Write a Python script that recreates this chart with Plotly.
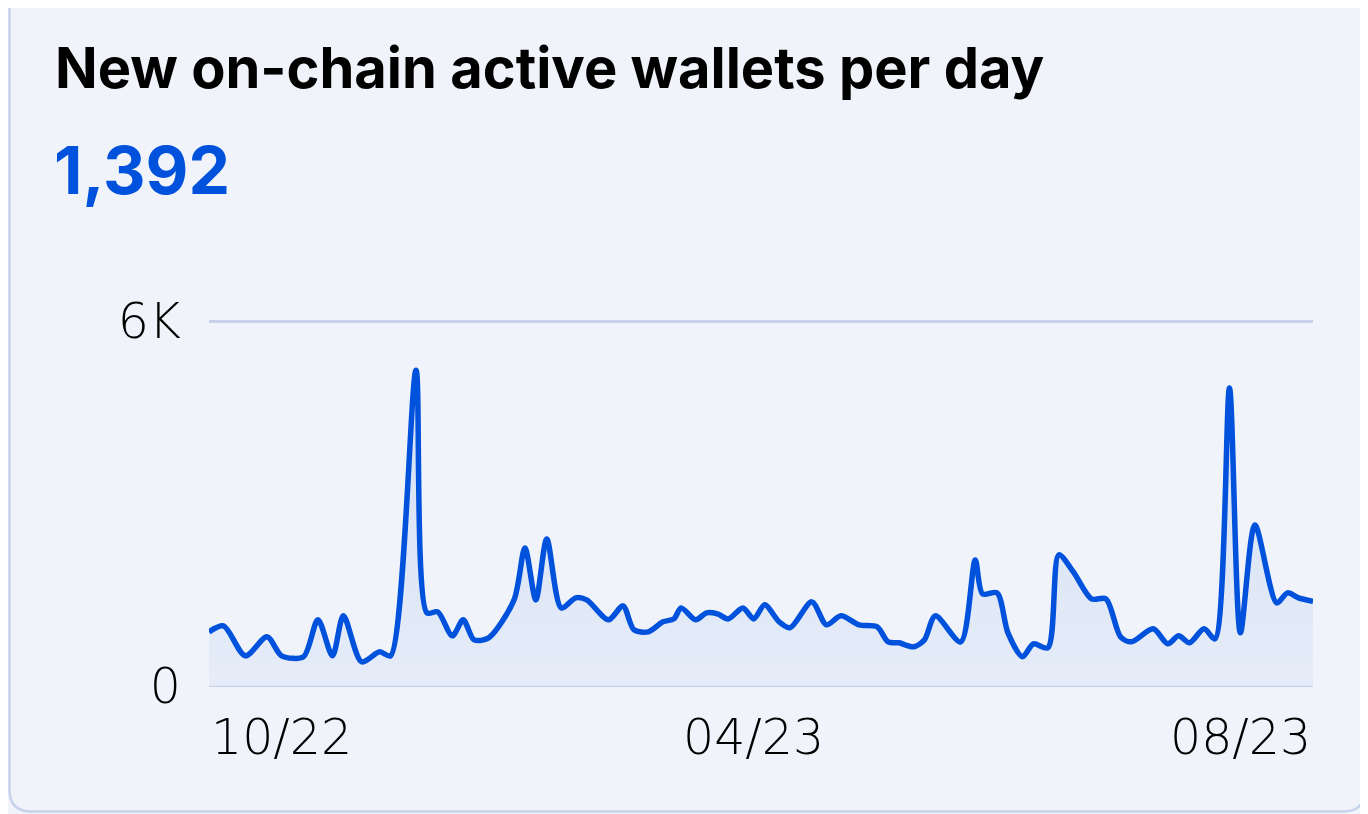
import plotly.graph_objects as go

# ---- data ----
dates = [
    "2022-10-31", "2022-11-04", "2022-11-10", "2022-11-16", "2022-11-20", "2022-11-26",
    "2022-11-30", "2022-12-04", "2022-12-07", "2022-12-12", "2022-12-17", "2022-12-20",
    "2022-12-27", "2022-12-30", "2023-01-02", "2023-01-06", "2023-01-09", "2023-01-12",
    "2023-01-16", "2023-01-23", "2023-01-26", "2023-01-29", "2023-02-01", "2023-02-05",
    "2023-02-09", "2023-02-12", "2023-02-18", "2023-02-22", "2023-02-25", "2023-03-01",
    "2023-03-05", "2023-03-08", "2023-03-10", "2023-03-14", "2023-03-17", "2023-03-20",
    "2023-03-23", "2023-03-27", "2023-03-30", "2023-04-02", "2023-04-06", "2023-04-09",
    "2023-04-15", "2023-04-19", "2023-04-23", "2023-04-28", "2023-05-03", "2023-05-06",
    "2023-05-09", "2023-05-13", "2023-05-16", "2023-05-19", "2023-05-26", "2023-05-30",
    "2023-06-01", "2023-06-05", "2023-06-08", "2023-06-12", "2023-06-15", "2023-06-19",
    "2023-06-22", "2023-06-26", "2023-07-01", "2023-07-05", "2023-07-09", "2023-07-12",
    "2023-07-18", "2023-07-22", "2023-07-25", "2023-07-28", "2023-08-01", "2023-08-04",
    "2023-08-08", "2023-08-11", "2023-08-15", "2023-08-21", "2023-08-24", "2023-08-27",
    "2023-08-31",
]
wallets = [
    888, 986, 493, 806, 493, 477, 1085, 493, 1151, 395,
    559, 493, 5195, 1200, 1217, 822, 1085, 756, 789, 1414,
    2269, 1414, 2417, 1282, 1447, 1414, 1085, 1315, 921, 888,
    1052, 1101, 1282, 1085, 1200, 1184, 1101, 1282, 1101, 1332,
    1052, 954, 1381, 1003, 1151, 1003, 970, 723, 707, 641,
    756, 1151, 723, 2071, 1512, 1529, 871, 477, 690, 625,
    2154, 1874, 1430, 1430, 806, 723, 937, 690, 822, 707,
    937, 773, 4899, 871, 2647, 1365, 1529, 1447, 1392,
]
y_tick_vals = [0, 6000]
y_tick_text = ["0", "6K"]
x_tick_dates = ["2022-10-31", "2023-03-30", "2023-08-31"]
x_tick_text = ["10/22", "04/23", "08/23"]
title_text = "New on-chain active wallets per day"

# ---- style ----
FONT_B = "Inter"
FONT_T = "DejaVu Sans"
BLUE = "#0051DB"
GRID = "#C6D2EC"
CARD_BG = "#F0F4FA"

# page has an 8px body margin; figure sized/offset to compensate
W, H = 1360, 806
L, R, T, B = 201, 55, 312, 127
PW, PH = W - L - R, H - T - B


def px_x(px):
    return (px - L) / PW


def px_y(py):
    return (H - B - py) / PH


fig = go.Figure()
fig.add_trace(go.Scatter(
    x=dates, y=wallets, mode="lines",
    line=dict(color=BLUE, width=5.5, shape="spline", smoothing=0.8),
    fill="tozeroy",
    fillgradient=dict(type="vertical", start=0, stop=5200,
                      colorscale=[[0, "rgba(230,236,248,1)"], [1, "rgba(210,223,245,1)"]]),
    hoverinfo="skip", showlegend=False,
))

# card outline with rounded corners
r = 22
x0, x1, y0, y1 = 1.5, W - 3, -30, H - 2.5
def P(px, py):
    return f"{px_x(px)},{px_y(py)}"
card_path = (
    f"M {P(x0 + r, y0)} L {P(x1 - r, y0)} Q {P(x1, y0)} {P(x1, y0 + r)} "
    f"L {P(x1, y1 - r)} Q {P(x1, y1)} {P(x1 - r, y1)} "
    f"L {P(x0 + r, y1)} Q {P(x0, y1)} {P(x0, y1 - r)} "
    f"L {P(x0, y0 + r)} Q {P(x0, y0)} {P(x0 + r, y0)} Z"
)
fig.add_shape(type="path", path=card_path, xref="paper", yref="paper",
              fillcolor=CARD_BG, line=dict(color=GRID, width=2.5), layer="below")

# title and latest value
fig.add_annotation(text=f"<b>{title_text}</b>", xref="paper", yref="paper",
                   x=px_x(45), y=px_y(60), xanchor="left", yanchor="middle",
                   showarrow=False, font=dict(family=FONT_B, size=56, color="#000000"))
fig.add_annotation(text=f"<b>{wallets[-1]:,}</b>", xref="paper", yref="paper",
                   x=px_x(44), y=px_y(162), xanchor="left", yanchor="middle",
                   showarrow=False, font=dict(family=FONT_B, size=66, color=BLUE))

# x-axis labels (first left aligned, last right aligned)
anchors = ["left", "center", "right"]
for d, t, a in zip(x_tick_dates, x_tick_text, anchors):
    fig.add_annotation(text=t, xref="x", yref="paper", x=d, y=px_y(729),
                       xanchor=a, yanchor="middle", showarrow=False,
                       font=dict(family=FONT_T, size=49, color="#000000", weight=300))

fig.update_layout(
    width=W, height=H,
    margin=dict(l=L, r=R, t=T, b=B, pad=0),
    paper_bgcolor="#F0F4FA",
    plot_bgcolor="rgba(0,0,0,0)",
    xaxis=dict(range=[dates[0], dates[-1]], showgrid=False, zeroline=False,
               showticklabels=False, showline=False, fixedrange=True),
    yaxis=dict(range=[-20, 6020], tickvals=y_tick_vals, ticktext=y_tick_text,
               showgrid=True, gridcolor=GRID, gridwidth=2.5, zeroline=False,
               showline=False, ticks="", ticklabelstandoff=27,
               tickfont=dict(family=FONT_T, size=49, color="#000000", weight=300)),
)

fig.write_html("out.html")
